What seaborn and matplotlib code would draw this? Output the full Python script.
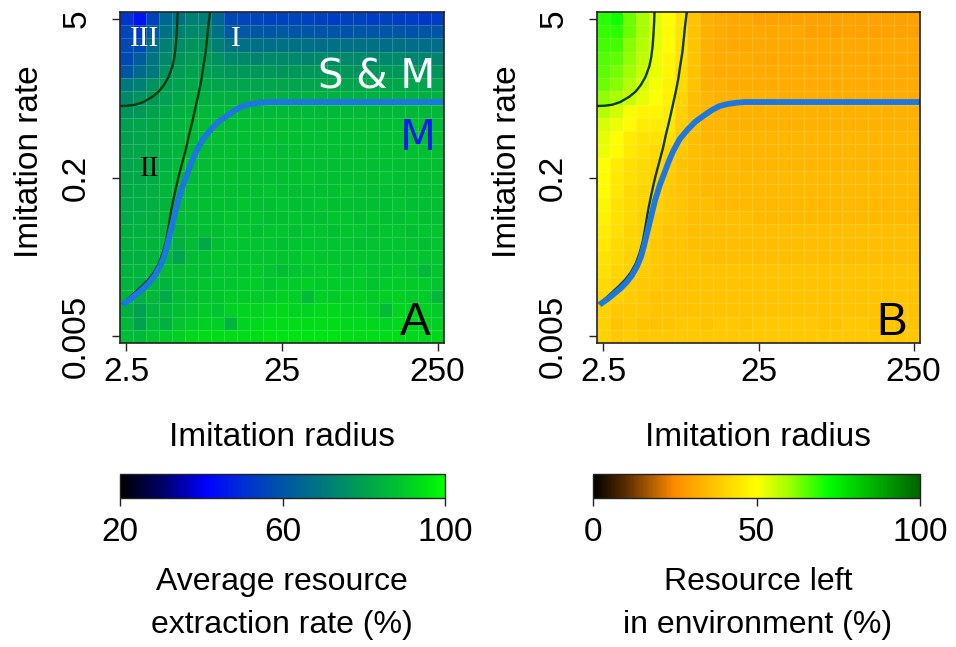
import numpy as np
import pandas as pd
import seaborn as sns
import matplotlib.pyplot as plt
from matplotlib.colors import LinearSegmentedColormap

# tick labels (placed at the centres of cells 0, 12 and 24)
radius_labels = ['2.5', '25', '250']
rate_labels = ['5', '0.2', '0.005']
label_cells = [0.5, 12.5, 24.5]

# panel A: average resource extraction rate (%), rows = imitation rate (top = 5)
extraction = [
    [52, 45, 55, 65, 68, 72, 72, 65, 57, 56, 56, 55, 55, 56, 55, 55, 54, 55, 55, 54, 55, 54, 54, 53, 54],
    [56, 52, 61, 68, 72, 74, 74, 68, 61, 61, 60, 60, 61, 60, 60, 60, 60, 59, 60, 60, 60, 60, 59, 60, 60],
    [57, 57, 66, 72, 75, 77, 77, 72, 68, 68, 68, 67, 68, 68, 68, 67, 68, 68, 68, 68, 67, 68, 67, 67, 67],
    [57, 62, 69, 74, 77, 79, 79, 76, 74, 74, 73, 74, 74, 74, 73, 74, 74, 74, 74, 73, 74, 74, 73, 73, 73],
    [60, 66, 70, 76, 79, 80, 80, 79, 78, 78, 78, 78, 77, 78, 78, 78, 78, 78, 77, 78, 78, 78, 78, 78, 77],
    [70, 72, 76, 79, 80, 82, 82, 81, 81, 81, 81, 81, 81, 81, 81, 81, 81, 81, 81, 81, 81, 81, 81, 81, 81],
    [74, 76, 78, 80, 82, 84, 84, 84, 84, 84, 84, 84, 84, 84, 84, 84, 84, 84, 84, 84, 84, 84, 84, 84, 84],
    [77, 78, 80, 82, 84, 85, 86, 86, 86, 86, 86, 86, 86, 86, 86, 86, 86, 86, 86, 86, 86, 86, 86, 86, 86],
    [80, 81, 82, 84, 85, 86, 87, 87, 87, 88, 88, 87, 88, 88, 88, 87, 88, 88, 88, 88, 87, 88, 88, 88, 87],
    [80, 81, 82, 84, 85, 86, 87, 88, 87, 88, 88, 88, 88, 88, 88, 88, 88, 88, 88, 88, 88, 88, 88, 88, 88],
    [81, 81, 83, 84, 85, 86, 87, 87, 88, 88, 88, 88, 87, 88, 88, 88, 88, 88, 88, 88, 88, 88, 88, 88, 88],
    [81, 82, 83, 84, 86, 87, 87, 88, 88, 88, 88, 88, 88, 88, 88, 88, 88, 88, 88, 88, 88, 88, 88, 88, 88],
    [82, 82, 83, 85, 86, 86, 87, 88, 88, 88, 88, 88, 88, 88, 89, 88, 88, 88, 88, 88, 89, 88, 88, 88, 88],
    [82, 83, 84, 85, 86, 87, 87, 88, 88, 88, 88, 89, 88, 88, 88, 88, 88, 89, 88, 88, 88, 88, 88, 88, 88],
    [83, 83, 84, 85, 86, 87, 88, 88, 88, 89, 88, 88, 89, 88, 88, 89, 88, 88, 88, 88, 88, 89, 88, 88, 88],
    [83, 84, 84, 86, 87, 87, 88, 88, 89, 88, 89, 88, 88, 89, 88, 88, 89, 89, 88, 89, 88, 88, 89, 88, 88],
    [84, 84, 85, 85, 85, 87, 88, 88, 89, 89, 88, 89, 89, 88, 89, 89, 88, 89, 89, 88, 89, 89, 88, 89, 89],
    [84, 85, 85, 86, 84, 87, 82, 88, 89, 89, 89, 89, 88, 89, 89, 89, 89, 89, 88, 89, 89, 89, 89, 88, 89],
    [84, 84, 85, 86, 81, 87, 88, 89, 89, 89, 89, 89, 89, 89, 90, 89, 89, 89, 89, 89, 89, 89, 89, 89, 89],
    [85, 85, 86, 87, 87, 88, 88, 89, 89, 89, 90, 89, 87, 89, 89, 90, 90, 89, 90, 89, 89, 90, 89, 86, 89],
    [85, 84, 86, 85, 87, 88, 89, 89, 89, 90, 90, 89, 90, 90, 91, 90, 90, 90, 90, 89, 90, 90, 90, 90, 89],
    [85, 84, 86, 83, 87, 88, 89, 89, 90, 90, 90, 90, 91, 91, 87, 91, 90, 91, 91, 90, 91, 91, 90, 90, 86],
    [84, 80, 85, 86, 88, 89, 90, 89, 91, 92, 92, 93, 93, 92, 92, 93, 93, 92, 92, 91, 87, 92, 92, 91, 90],
    [86, 80, 87, 84, 89, 90, 91, 91, 85, 92, 93, 94, 94, 94, 94, 94, 94, 93, 93, 93, 92, 93, 92, 92, 91],
    [87, 86, 89, 90, 91, 93, 94, 94, 94, 94, 94, 95, 95, 95, 95, 95, 95, 94, 94, 94, 94, 94, 93, 93, 93],
]

# panel B: resource left in environment (%)
resource_left = [
    [69, 71, 64, 59, 53, 49, 44, 37, 33, 32, 31, 31, 30, 30, 30, 30, 30, 30, 30, 30, 30, 30, 30, 30, 30],
    [68, 69, 64, 59, 53, 49, 44, 37, 33, 32, 31, 31, 31, 31, 31, 31, 30, 30, 30, 30, 30, 30, 30, 30, 30],
    [67, 67, 62, 58, 53, 49, 43, 37, 33, 32, 31, 31, 31, 31, 31, 31, 31, 31, 31, 31, 31, 31, 31, 31, 31],
    [66, 65, 61, 57, 52, 48, 43, 37, 33, 32, 32, 32, 31, 31, 31, 31, 31, 31, 31, 31, 31, 31, 31, 31, 31],
    [65, 63, 60, 56, 52, 48, 42, 37, 33, 32, 32, 32, 32, 32, 32, 32, 32, 32, 32, 32, 32, 32, 32, 31, 31],
    [64, 62, 58, 54, 51, 47, 42, 37, 33, 33, 32, 32, 32, 32, 32, 32, 32, 32, 32, 32, 32, 32, 32, 32, 32],
    [61, 59, 56, 53, 50, 47, 41, 36, 34, 33, 33, 33, 33, 33, 32, 32, 32, 32, 32, 32, 32, 32, 32, 32, 32],
    [58, 55, 51, 48, 48, 46, 40, 36, 34, 33, 33, 33, 33, 33, 33, 33, 33, 33, 33, 33, 33, 33, 33, 33, 33],
    [54, 52, 49, 46, 46, 45, 39, 36, 34, 34, 33, 33, 33, 33, 33, 33, 33, 33, 33, 33, 33, 33, 33, 33, 33],
    [53, 50, 46, 44, 44, 43, 38, 36, 34, 34, 34, 34, 34, 34, 34, 34, 34, 34, 34, 34, 34, 34, 34, 34, 34],
    [52, 49, 45, 43, 42, 41, 38, 36, 35, 34, 34, 34, 34, 34, 34, 34, 34, 34, 34, 34, 34, 34, 34, 34, 34],
    [50, 46, 43, 42, 41, 39, 37, 36, 35, 35, 35, 34, 34, 34, 34, 34, 34, 34, 34, 34, 34, 34, 34, 34, 34],
    [49, 45, 43, 42, 40, 39, 37, 36, 35, 35, 35, 35, 35, 35, 35, 35, 35, 35, 35, 35, 35, 35, 35, 35, 35],
    [49, 45, 42, 41, 40, 38, 37, 36, 35, 35, 35, 35, 35, 35, 35, 35, 35, 35, 35, 35, 35, 35, 35, 35, 35],
    [48, 44, 42, 41, 40, 38, 37, 36, 36, 35, 35, 35, 35, 35, 35, 35, 35, 35, 35, 35, 35, 35, 35, 35, 35],
    [47, 44, 42, 40, 39, 38, 37, 36, 36, 36, 36, 36, 35, 35, 35, 35, 35, 35, 35, 35, 35, 35, 35, 35, 35],
    [46, 43, 41, 40, 39, 37, 37, 36, 36, 36, 36, 36, 36, 36, 36, 36, 36, 36, 36, 36, 36, 36, 36, 36, 36],
    [45, 42, 41, 40, 38, 37, 37, 36, 36, 36, 36, 36, 36, 36, 36, 36, 36, 36, 36, 36, 36, 36, 36, 36, 36],
    [44, 42, 40, 39, 38, 37, 37, 37, 36, 36, 36, 36, 36, 36, 36, 36, 36, 36, 36, 36, 36, 36, 36, 36, 36],
    [43, 41, 40, 39, 38, 37, 37, 37, 37, 37, 37, 37, 37, 37, 37, 37, 37, 37, 37, 37, 37, 37, 37, 37, 37],
    [42, 40, 39, 38, 38, 37, 37, 37, 37, 37, 37, 37, 37, 37, 37, 37, 37, 37, 37, 37, 37, 37, 37, 37, 37],
    [41, 40, 39, 38, 37, 37, 37, 37, 37, 37, 37, 37, 37, 37, 37, 37, 37, 37, 37, 37, 37, 37, 37, 37, 37],
    [40, 38, 38, 38, 37, 37, 37, 37, 37, 37, 37, 37, 37, 37, 37, 37, 37, 37, 37, 37, 37, 37, 37, 37, 37],
    [40, 37, 38, 37, 37, 37, 38, 38, 37, 38, 38, 37, 38, 38, 38, 38, 38, 37, 37, 38, 38, 37, 37, 37, 37],
    [40, 38, 39, 38, 38, 38, 38, 38, 38, 38, 38, 38, 38, 38, 38, 38, 38, 38, 38, 38, 38, 38, 38, 38, 38],
]

# region boundaries, in cell units (x = radius cell, y = rate cell from top)
m_x = [0.2, 0.8, 1.3, 1.8, 2.3, 2.7, 3.1, 3.4, 3.6, 3.8, 4.0, 4.25, 4.5, 4.85, 5.2, 5.55,
       5.9, 6.4, 7.0, 7.6, 8.3, 8.9, 9.5, 10.1, 10.8, 11.5, 12.1, 25.0]
m_y = [22.1, 21.7, 21.3, 20.9, 20.4, 19.9, 19.2, 18.5, 17.8, 17.0, 16.2, 15.2, 14.2, 13.1,
       12.2, 11.3, 10.5, 9.6, 8.9, 8.3, 7.8, 7.4, 7.1, 6.95, 6.85, 6.8, 6.8, 6.8]
b1_x = [0.2, 0.7, 1.2, 1.7, 2.2, 2.6, 3.0, 3.3, 3.55, 3.75, 3.95, 4.2, 4.5, 4.8, 5.1, 5.35,
        5.6, 5.85, 6.1, 6.3, 6.45, 6.6, 6.7, 6.8, 6.95]
b1_y = [22.0, 21.6, 21.15, 20.7, 20.2, 19.7, 19.0, 18.2, 17.3, 16.2, 15.0, 13.8, 12.5, 11.4,
        10.3, 9.2, 8.2, 7.1, 6.0, 5.0, 4.0, 3.1, 2.2, 1.2, 0.0]
b3_x = [0.0, 0.6, 1.2, 1.8, 2.5, 3.0, 3.4, 3.75, 4.05, 4.2, 4.3, 4.37, 4.42, 4.45]
b3_y = [7.1, 7.08, 7.0, 6.8, 6.4, 6.0, 5.5, 4.9, 4.1, 3.4, 2.6, 1.7, 0.8, 0.0]

cmap_a = LinearSegmentedColormap.from_list('extraction', [
    (0.0, '#000000'), (0.125, '#000064'), (0.2625, '#0000ff'), (0.375, '#002dd7'),
    (0.5, '#0055a5'), (0.625, '#00787d'), (0.75, '#00a050'), (0.85, '#00c032'),
    (0.9375, '#00e114'), (1.0, '#00ff00')])
cmap_b = LinearSegmentedColormap.from_list('resource', [
    (0.0, '#000000'), (0.10, '#5a2d00'), (0.25, '#ff8c00'), (0.38, '#ffc800'),
    (0.50, '#ffff00'), (0.60, '#a0ff00'), (0.72, '#00ff00'), (1.0, '#006400')])

sns.set_style('white')
plt.rcParams['font.family'] = ['Liberation Sans', 'DejaVu Sans']
plt.rcParams['text.color'] = 'black'
plt.rcParams['xtick.color'] = 'black'
plt.rcParams['ytick.color'] = 'black'

W, H = 956, 647
fig = plt.figure(figsize=(W / 100, H / 100), dpi=100)


def box(l, t, r, b):
    return [l / W, 1 - b / H, (r - l) / W, (b - t) / H]


panels = [
    dict(data=extraction, cmap=cmap_a, vmin=20, vmax=100, cticks=[20, 60, 100],
         ax=box(120, 12, 444, 343), cax=box(120, 474, 445, 498),
         xc=282, ylab_x=30, letter='A',
         cb1='Average resource', cb2='extraction rate (%)'),
    dict(data=resource_left, cmap=cmap_b, vmin=0, vmax=100, cticks=[0, 50, 100],
         ax=box(597, 12, 920, 343), cax=box(593, 474, 920, 498),
         xc=758, ylab_x=507, letter='B',
         cb1='Resource left', cb2='in environment (%)'),
]

for p in panels:
    ax = fig.add_axes(p['ax'])
    cax = fig.add_axes(p['cax'])
    sns.heatmap(pd.DataFrame(p['data']), ax=ax, cmap=p['cmap'], vmin=p['vmin'], vmax=p['vmax'],
                cbar_ax=cax, cbar_kws={'orientation': 'horizontal', 'ticks': p['cticks']},
                linewidths=0.5, linecolor=(1, 1, 1, 0.18))
    for sp in ax.spines.values():
        sp.set_visible(True)
        sp.set_linewidth(1.2)
        sp.set_color('#222222')
    ax.set_xticks(label_cells)
    ax.set_xticklabels(radius_labels, rotation=0)
    ax.set_yticks(label_cells)
    ax.set_yticklabels(rate_labels, rotation=90, va='center')
    ax.tick_params(axis='both', length=6, width=1, color='#222222', labelsize=24,
                   labelcolor='black', direction='out', left=True, bottom=True)
    ax.tick_params(axis='x', pad=4)
    ax.tick_params(axis='y', pad=14)
    ax.set_xlabel('')
    ax.set_ylabel('')

    # boundaries
    ax.plot(b1_x, b1_y, color='#0b3a0b', lw=1.7, solid_joinstyle='round')
    ax.plot(b3_x, b3_y, color='#0b3a0b', lw=1.7, solid_joinstyle='round')
    ax.plot(m_x, m_y, color='#1c78e0', lw=4.2, solid_capstyle='butt', solid_joinstyle='round')
    ax.set_xlim(0, 25)
    ax.set_ylim(25, 0)

    ax.text(22.8, 24.4, p['letter'], fontsize=33, color='black', ha='center', va='baseline')

    cb = ax.collections[0].colorbar
    cb.outline.set_linewidth(1)
    cb.outline.set_edgecolor('#222222')
    cax.tick_params(length=6, width=1, labelsize=24, pad=8, color='#222222', labelcolor='black')

    fig.text(p['xc'] / W, 1 - 446 / H, 'Imitation radius', fontsize=24, ha='center', va='baseline')
    fig.text(p['ylab_x'] / W, 1 - 162 / H, 'Imitation rate', fontsize=24, rotation=90,
             ha='center', va='center')
    fig.text(p['xc'] / W, 1 - 590 / H, p['cb1'], fontsize=23, ha='center', va='baseline')
    fig.text(p['xc'] / W, 1 - 633 / H, p['cb2'], fontsize=23, ha='center', va='baseline')

    if p['letter'] == 'A':
        serif = ['Liberation Serif', 'DejaVu Serif']
        ax.text(1.86, 2.57, 'III', family=serif, fontsize=21, color='white', ha='center', va='baseline')
        ax.text(8.9, 2.57, 'I', family=serif, fontsize=21, color='white', ha='center', va='baseline')
        ax.text(2.3, 12.4, 'II', family=serif, fontsize=21, color='black', ha='center', va='baseline')
        ax.text(19.8, 5.8, 'S & M', family=['DejaVu Sans'], fontsize=29, color='white',
                ha='center', va='baseline')
        ax.text(23.0, 10.4, 'M', family=['DejaVu Sans'], fontsize=30, color='#0d1fe8',
                ha='center', va='baseline')

fig.savefig('out.png', dpi=100)
